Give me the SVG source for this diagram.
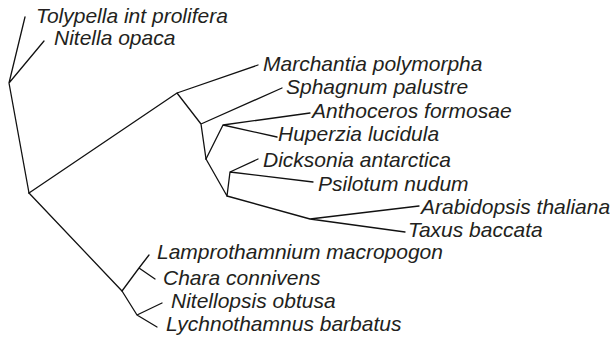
<svg xmlns="http://www.w3.org/2000/svg" width="615" height="341" viewBox="0 0 615 341">
<style>
.e{stroke:#111;stroke-width:1.3;fill:none;stroke-linecap:round;stroke-linejoin:round}
.t{font-family:"Liberation Sans",Arial,sans-serif;font-style:italic;font-size:21px;fill:#231f20}
</style>
<rect width="615" height="341" fill="#fff"/>
<g id="connectors" class="e">
<path d="M9,83 L25,17 M9,83 L44,41 M9,83 L29,193"/>
<path d="M29,193 L177,93 M177,93 L258,65 M177,93 L201,124 M201,124 L282,88 M201,124 L206,159"/>
<path d="M206,159 L223,125 M223,125 L310,113 M223,125 L277,137"/>
<path d="M206,159 L227,196 M227,196 L230,172 M230,172 L258,159 M230,172 L313,182"/>
<path d="M227,196 L310,219 M310,219 L419,206 M310,219 L405,232"/>
<path d="M29,193 L122,291 M122,291 L139,268 M139,268 L149,255 M139,268 L155,279"/>
<path d="M122,291 L137,315 M137,315 L162,303 M137,315 L157,327"/>
</g>
<g id="n-tolypella"><text class="t" x="36" y="23">Tolypella int prolifera</text></g>
<g id="n-nitella"><text class="t" x="54" y="45">Nitella opaca</text></g>
<g id="n-marchantia"><text class="t" x="263" y="71">Marchantia polymorpha</text></g>
<g id="n-sphagnum"><text class="t" x="286" y="94">Sphagnum palustre</text></g>
<g id="n-anthoceros"><text class="t" x="312" y="118">Anthoceros formosae</text></g>
<g id="n-huperzia"><text class="t" x="278" y="141">Huperzia lucidula</text></g>
<g id="n-dicksonia"><text class="t" x="263" y="167">Dicksonia antarctica</text></g>
<g id="n-psilotum"><text class="t" x="318" y="191">Psilotum nudum</text></g>
<g id="n-arabidopsis"><text class="t" x="421" y="214">Arabidopsis thaliana</text></g>
<g id="n-taxus"><text class="t" x="408" y="237">Taxus baccata</text></g>
<g id="n-lamprothamnium"><text class="t" x="157" y="259">Lamprothamnium macropogon</text></g>
<g id="n-chara"><text class="t" x="163" y="285">Chara connivens</text></g>
<g id="n-nitellopsis"><text class="t" x="171" y="308">Nitellopsis obtusa</text></g>
<g id="n-lychnothamnus"><text class="t" x="166" y="331">Lychnothamnus barbatus</text></g>
</svg>
